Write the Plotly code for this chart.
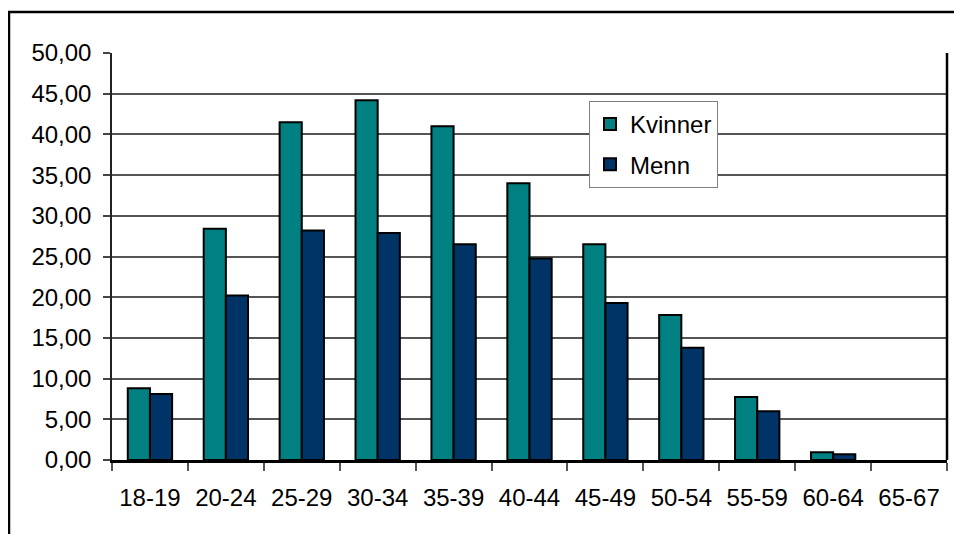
import plotly.graph_objects as go

categories = ["18-19", "20-24", "25-29", "30-34", "35-39", "40-44", "45-49", "50-54", "55-59", "60-64", "65-67"]
kvinner = [8.8, 28.4, 41.5, 44.2, 41.0, 34.0, 26.5, 17.8, 7.75, 0.94, 0.0]
menn = [8.1, 20.2, 28.2, 27.9, 26.5, 24.75, 19.3, 13.8, 6.0, 0.7, 0.0]
y_ticks = [0, 5, 10, 15, 20, 25, 30, 35, 40, 45, 50]

FONT = "Liberation Sans, Arial, sans-serif"
OFF = 8  # page body margin
W, H = 962 - OFF, 534 - OFF
L, T = 112 - OFF, 53 - OFF
R = W - (947 - OFF)
B = H - (460 - OFF)
pw, ph = W - L - R, H - T - B


def outline(vals):
    return [2 if v > 0 else 0 for v in vals]


fig = go.Figure()
fig.add_trace(go.Bar(x=categories, y=kvinner, name="Kvinner", legendgroup="k",
                     marker=dict(color="#008080", line=dict(color="#000000", width=outline(kvinner)))))
fig.add_trace(go.Bar(x=categories, y=menn, name="Menn", legendgroup="m",
                     marker=dict(color="#003366", line=dict(color="#000000", width=outline(menn)))))

fig.update_layout(
    width=W, height=H,
    margin=dict(l=L, r=R, t=T, b=B),
    paper_bgcolor="white", plot_bgcolor="white",
    separators=",.",
    barmode="group", bargap=0.416, bargroupgap=0.0,
    font=dict(family=FONT, size=24, color="#000000"),
    legend=dict(x=(589 - 112) / pw, y=1 - (101 - 53) / ph, xanchor="left", yanchor="top",
                bgcolor="white", bordercolor="#808080", borderwidth=1,
                font=dict(size=24), traceorder="grouped", tracegroupgap=6),
    xaxis=dict(showline=True, linecolor="#000000", linewidth=2.5,
               ticks="outside", tickson="boundaries", ticklen=8, tickcolor="#555555",
               tickwidth=1.5, showgrid=False, tickfont=dict(size=24),
               ticklabelstandoff=14),
    yaxis=dict(range=[0, 50], tickvals=y_ticks, tickformat=".2f",
               showline=True, linecolor="#222222", linewidth=1.5,
               ticks="outside", ticklen=7, tickcolor="#444444", tickwidth=1.5,
               showgrid=True, gridcolor="#555555", gridwidth=1.5,
               zeroline=False, ticklabelstandoff=7, tickfont=dict(size=24)),
    shapes=[
        dict(type="line", xref="paper", yref="paper", x0=1, x1=1, y0=0, y1=1,
             line=dict(color="#000000", width=2.5)),
        dict(type="rect", xref="paper", yref="paper",
             x0=(9 - 112) / pw, x1=1.2, y0=-0.5, y1=1 + (53 - 12) / ph,
             line=dict(color="#000000", width=2.5), layer="below"),
    ],
)

fig.write_html("out.html")
